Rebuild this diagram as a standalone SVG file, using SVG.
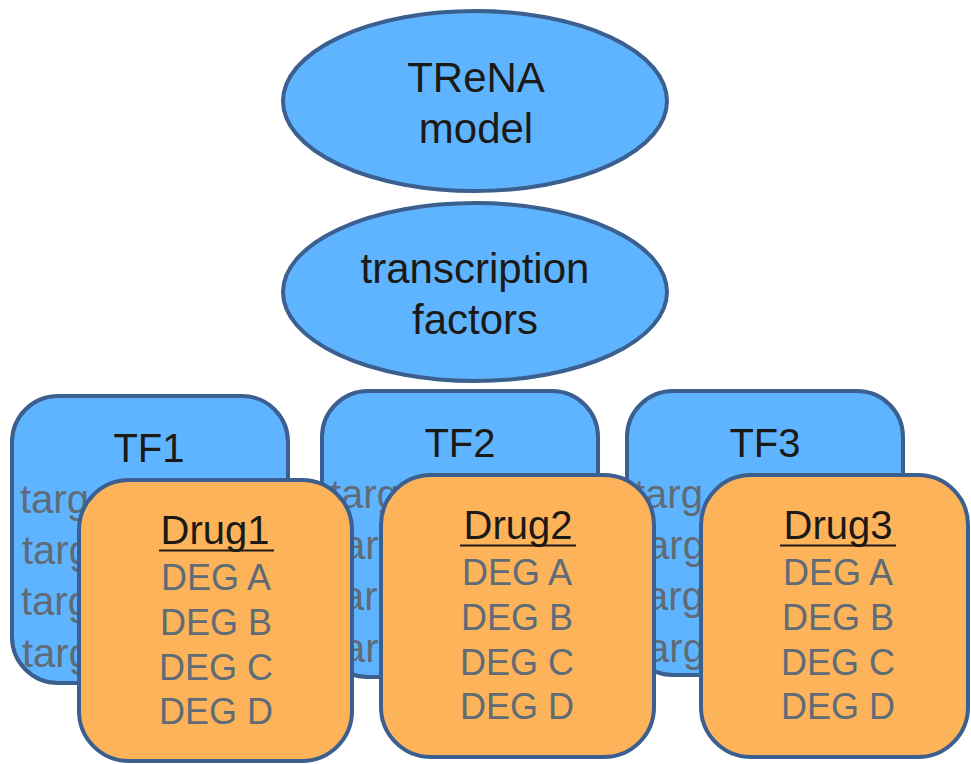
<svg xmlns="http://www.w3.org/2000/svg" width="971" height="764" viewBox="0 0 971 764">
  <style>
    .blue { fill: #5FB4FF; stroke: #3B5F8F; stroke-width: 4; }
    .orange { fill: #FDB359; stroke: #3B5F8F; stroke-width: 4; }
    .title { font-family: "Liberation Sans", Arial, sans-serif; font-size: 40px; fill: #1C1A16; text-anchor: middle; }
    .big { font-size: 42px; }
    .tgt { font-family: "Liberation Sans", Arial, sans-serif; font-size: 40px; fill: #5F6B76; }
    .deg { font-family: "Liberation Sans", Arial, sans-serif; font-size: 36px; fill: #5F6B76; text-anchor: middle; }
    .ul { stroke: #1C1A16; stroke-width: 2; }
  </style>
  <rect width="971" height="764" fill="#FFFFFF"/>

  <!-- top ellipses -->
  <g id="trena-model">
    <ellipse class="blue" cx="475" cy="101" rx="192" ry="90"/>
    <text class="title big" x="476" y="92">TReNA</text>
    <text class="title big" x="476" y="143">model</text>
  </g>
  <g id="transcription-factors">
    <ellipse class="blue" cx="475" cy="292" rx="192" ry="89"/>
    <text class="title big" x="475" y="283">transcription</text>
    <text class="title big" x="475" y="334">factors</text>
  </g>

  <!-- transcription factor cards -->
  <g id="tf1">
    <rect class="blue" x="12" y="396" width="276" height="287" rx="46"/>
    <text class="title" x="149" y="462">TF1</text>
    <text class="tgt" x="20" y="513">targ</text>
    <text class="tgt" x="22" y="564">targ</text>
    <text class="tgt" x="21" y="615">targ</text>
    <text class="tgt" x="22" y="667">targ</text>
  </g>
  <g id="tf2">
    <rect class="blue" x="322" y="391" width="276" height="286" rx="46"/>
    <text class="title" x="460" y="457">TF2</text>
    <text class="tgt" x="330" y="508">targ</text>
    <text class="tgt" x="332" y="559">targ</text>
    <text class="tgt" x="331" y="610">targ</text>
    <text class="tgt" x="332" y="662">targ</text>
  </g>
  <g id="tf3">
    <rect class="blue" x="627" y="391" width="276" height="284" rx="46"/>
    <text class="title" x="765" y="457">TF3</text>
    <text class="tgt" x="634" y="508">targ</text>
    <text class="tgt" x="636" y="559">targ</text>
    <text class="tgt" x="635" y="610">targ</text>
    <text class="tgt" x="636" y="662">targ</text>
  </g>

  <!-- drug cards -->
  <g id="drug1">
    <rect class="orange" x="79" y="480" width="273" height="281" rx="50"/>
    <text class="title" x="215" y="544">Drug1</text>
    <line class="ul" x1="159" y1="550.5" x2="274" y2="550.5"/>
    <text class="deg" x="216" y="590">DEG A</text>
    <text class="deg" x="216" y="635">DEG B</text>
    <text class="deg" x="216" y="680">DEG C</text>
    <text class="deg" x="216" y="724">DEG D</text>
  </g>
  <g id="drug2">
    <rect class="orange" x="381" y="475" width="273" height="282" rx="50"/>
    <text class="title" x="518" y="539">Drug2</text>
    <line class="ul" x1="460" y1="545.5" x2="576" y2="545.5"/>
    <text class="deg" x="517" y="585">DEG A</text>
    <text class="deg" x="517" y="630">DEG B</text>
    <text class="deg" x="517" y="675">DEG C</text>
    <text class="deg" x="517" y="719">DEG D</text>
  </g>
  <g id="drug3">
    <rect class="orange" x="701" y="475" width="267" height="282" rx="50"/>
    <text class="title" x="838" y="539">Drug3</text>
    <line class="ul" x1="780" y1="545.5" x2="896" y2="545.5"/>
    <text class="deg" x="838" y="585">DEG A</text>
    <text class="deg" x="838" y="630">DEG B</text>
    <text class="deg" x="838" y="675">DEG C</text>
    <text class="deg" x="838" y="719">DEG D</text>
  </g>

  <g id="connectors"/>
</svg>
